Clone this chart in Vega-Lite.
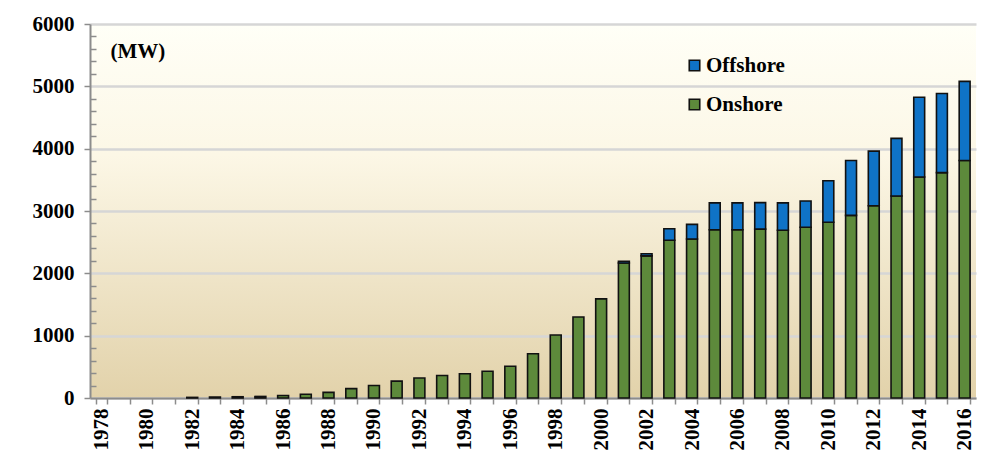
{
  "$schema": "https://vega.github.io/schema/vega-lite/v6.json",
  "autosize": {"type": "none"},
  "padding": {"left": 90, "top": 24, "right": 12, "bottom": 60},
  "width": 886,
  "height": 374,
  "background": "#ffffff",
  "config": {
    "view": {
      "stroke": null,
      "fill": {
        "gradient": "linear", "x1": 0, "y1": 0, "x2": 0, "y2": 1,
        "stops": [
          {"offset": 0, "color": "#fffff7"},
          {"offset": 0.35, "color": "#fcf7e6"},
          {"offset": 1, "color": "#e2d2aa"}
        ]
      }
    },
    "font": "Liberation Serif"
  },
  "data": {
    "values": [
      {"year": "1982", "type": "Onshore", "mw": 10},
      {"year": "1983", "type": "Onshore", "mw": 15},
      {"year": "1984", "type": "Onshore", "mw": 20},
      {"year": "1985", "type": "Onshore", "mw": 25},
      {"year": "1986", "type": "Onshore", "mw": 40},
      {"year": "1987", "type": "Onshore", "mw": 60},
      {"year": "1988", "type": "Onshore", "mw": 90},
      {"year": "1989", "type": "Onshore", "mw": 150},
      {"year": "1990", "type": "Onshore", "mw": 200},
      {"year": "1991", "type": "Onshore", "mw": 270},
      {"year": "1992", "type": "Onshore", "mw": 320},
      {"year": "1993", "type": "Onshore", "mw": 360},
      {"year": "1994", "type": "Onshore", "mw": 390},
      {"year": "1995", "type": "Onshore", "mw": 430},
      {"year": "1996", "type": "Onshore", "mw": 510},
      {"year": "1997", "type": "Onshore", "mw": 710},
      {"year": "1998", "type": "Onshore", "mw": 1010},
      {"year": "1999", "type": "Onshore", "mw": 1300},
      {"year": "2000", "type": "Onshore", "mw": 1590},
      {"year": "2001", "type": "Onshore", "mw": 2165},
      {"year": "2001", "type": "Offshore", "mw": 30},
      {"year": "2002", "type": "Onshore", "mw": 2280},
      {"year": "2002", "type": "Offshore", "mw": 35},
      {"year": "2003", "type": "Onshore", "mw": 2530},
      {"year": "2003", "type": "Offshore", "mw": 185},
      {"year": "2004", "type": "Onshore", "mw": 2550},
      {"year": "2004", "type": "Offshore", "mw": 235},
      {"year": "2005", "type": "Onshore", "mw": 2700},
      {"year": "2005", "type": "Offshore", "mw": 430},
      {"year": "2006", "type": "Onshore", "mw": 2700},
      {"year": "2006", "type": "Offshore", "mw": 430},
      {"year": "2007", "type": "Onshore", "mw": 2710},
      {"year": "2007", "type": "Offshore", "mw": 425},
      {"year": "2008", "type": "Onshore", "mw": 2690},
      {"year": "2008", "type": "Offshore", "mw": 440},
      {"year": "2009", "type": "Onshore", "mw": 2740},
      {"year": "2009", "type": "Offshore", "mw": 420},
      {"year": "2010", "type": "Onshore", "mw": 2820},
      {"year": "2010", "type": "Offshore", "mw": 665},
      {"year": "2011", "type": "Onshore", "mw": 2930},
      {"year": "2011", "type": "Offshore", "mw": 880},
      {"year": "2012", "type": "Onshore", "mw": 3085},
      {"year": "2012", "type": "Offshore", "mw": 875},
      {"year": "2013", "type": "Onshore", "mw": 3240},
      {"year": "2013", "type": "Offshore", "mw": 925},
      {"year": "2014", "type": "Onshore", "mw": 3545},
      {"year": "2014", "type": "Offshore", "mw": 1280},
      {"year": "2015", "type": "Onshore", "mw": 3615},
      {"year": "2015", "type": "Offshore", "mw": 1270},
      {"year": "2016", "type": "Onshore", "mw": 3810},
      {"year": "2016", "type": "Offshore", "mw": 1270}
    ]
  },
  "mark": {"type": "bar", "stroke": "#111111", "strokeWidth": 1.6},
  "encoding": {
    "x": {
      "field": "year", "type": "ordinal",
      "scale": {
        "domain": ["1978","1979","1980","1981","1982","1983","1984","1985","1986","1987","1988","1989","1990","1991","1992","1993","1994","1995","1996","1997","1998","1999","2000","2001","2002","2003","2004","2005","2006","2007","2008","2009","2010","2011","2012","2013","2014","2015","2016"],
        "paddingInner": 0.52, "paddingOuter": 0.26
      },
      "axis": {
        "orient": "bottom",
        "labelAngle": 270,
        "labelExpr": "parseInt(datum.value) % 2 == 0 ? datum.label : ''",
        "labelFont": "Liberation Serif", "labelFontWeight": "bold", "labelFontSize": 21,
        "labelColor": "#000000", "labelPadding": 4, "labelAlign": "right", "labelBaseline": "middle",
        "tickBand": "extent", "tickSize": 6, "tickColor": "#8c8c8c", "tickWidth": 1.5,
        "domainColor": "#8c8c8c", "domainWidth": 2,
        "grid": false, "title": null, "labelOverlap": false
      }
    },
    "y": {
      "field": "mw", "type": "quantitative", "stack": "zero",
      "scale": {"domain": [0, 6000], "nice": false},
      "axis": {
        "orient": "left",
        "values": [0,200,400,600,800,1000,1200,1400,1600,1800,2000,2200,2400,2600,2800,3000,3200,3400,3600,3800,4000,4200,4400,4600,4800,5000,5200,5400,5600,5800,6000],
        "labelExpr": "datum.value % 1000 === 0 ? format(datum.value, 'd') : ''",
        "labelFont": "Liberation Serif", "labelFontWeight": "bold", "labelFontSize": 21,
        "labelColor": "#000000", "labelPadding": 10, "labelOverlap": false,
        "tickSize": {"condition": {"test": "datum.value % 1000 === 0", "value": 6}, "value": -6},
        "tickColor": "#8c8c8c",
        "tickWidth": 1.5,
        "domainColor": "#8c8c8c", "domainWidth": 2,
        "grid": true, "gridWidth": 2.5,
        "gridColor": {"condition": {"test": "datum.value % 1000 === 0", "value": "#d6d6d6"}, "value": "transparent"},
        "title": "(MW)", "titleAngle": 0, "titleAlign": "left", "titleBaseline": "middle",
        "titleX": 20, "titleY": 27, "titleFont": "Liberation Serif", "titleFontSize": 21,
        "titleFontWeight": "bold", "titleColor": "#000000"
      }
    },
    "color": {
      "field": "type", "type": "nominal",
      "scale": {"domain": ["Offshore", "Onshore"], "range": ["#0f73c7", "#5d8a3b"]},
      "legend": {
        "orient": "none", "legendX": 594, "legendY": 31, "title": null,
        "symbolType": "square", "symbolSize": 110, "symbolStrokeColor": "#111111",
        "symbolStrokeWidth": 1.6, "symbolOpacity": 1,
        "labelFont": "Liberation Serif", "labelFontWeight": "bold", "labelFontSize": 21,
        "labelColor": "#000000", "labelOffset": 1, "rowPadding": 17
      }
    },
    "order": {"field": "type", "sort": "descending"}
  }
}
